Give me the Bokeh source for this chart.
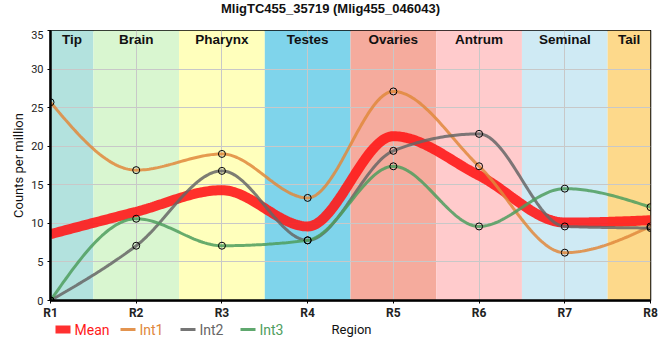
import numpy as np
from bokeh.plotting import figure
from bokeh.layouts import column
from bokeh.models import FixedTicker, Range1d
from bokeh.core.properties import value
from bokeh.embed import file_html
from bokeh.resources import INLINE

title_text = "MligTC455_35719 (Mlig455_046043)"
regions = ["R1", "R2", "R3", "R4", "R5", "R6", "R7", "R8"]
positions = [1, 2, 3, 4, 5, 6, 7, 8]
tissues = ["Tip", "Brain", "Pharynx", "Testes", "Ovaries", "Antrum", "Seminal", "Tail"]
tissue_start = [1, 1.5, 2.5, 3.5, 4.5, 5.5, 6.5, 7.5]
tissue_end = [1.5, 2.5, 3.5, 4.5, 5.5, 6.5, 7.5, 8]
tissue_colors = ["#b3e2de", "#d9f6d0", "#ffffbc", "#7fd4eb", "#f5ab9d",
                 "#ffcbcc", "#cfeaf4", "#fdd98b"]

mean_vals = [8.6, 11.5, 14.3, 9.6, 21.3, 16.2, 10.1, 10.4]
int1_vals = [25.7, 16.9, 19.0, 13.3, 27.1, 17.4, 6.2, 9.6]
int2_vals = [0.0, 7.1, 16.8, 7.8, 19.4, 21.6, 9.6, 9.4]
int3_vals = [0.0, 10.6, 7.1, 7.8, 17.4, 9.6, 14.5, 12.1]

series_names = ["Mean", "Int1", "Int2", "Int3"]
series_colors = ["#ff1a1a", "#e0883c", "#666666", "#4e9e5e"]
series_widths = [10, 3, 3, 3]
x_label = "Region"
y_label = "Counts per million"


def monotone_curve(xs, ys, n=40):
    x = np.asarray(xs, float)
    y = np.asarray(ys, float)
    k = len(x)
    h = np.diff(x)
    s = np.diff(y) / h
    sgn = lambda v: -1.0 if v < 0 else 1.0
    t = np.zeros(k)
    for i in range(1, k - 1):
        s0, s1 = s[i - 1], s[i]
        p_ = (s0 * h[i] + s1 * h[i - 1]) / (h[i - 1] + h[i])
        t[i] = (sgn(s0) + sgn(s1)) * min(abs(s0), abs(s1), 0.5 * abs(p_))
    t[0] = (3 * s[0] - t[1]) / 2
    t[-1] = (3 * s[-1] - t[-2]) / 2
    ox, oy = [], []
    for i in range(k - 1):
        u = np.linspace(0, 1, n, endpoint=(i == k - 2))
        h00 = 2 * u**3 - 3 * u**2 + 1
        h10 = u**3 - 2 * u**2 + u
        h01 = -2 * u**3 + 3 * u**2
        h11 = u**3 - u**2
        ox.extend(x[i] + u * h[i])
        oy.extend(h00 * y[i] + h10 * h[i] * t[i] + h01 * y[i + 1] + h11 * h[i] * t[i + 1])
    return ox, oy


def strip(height):
    f = figure(frame_width=600, frame_height=height, output_backend="svg", toolbar_location=None,
               x_range=Range1d(50, 650), y_range=Range1d(0, height),
               min_border_left=50, min_border_right=8, min_border_top=0, min_border_bottom=0,
               x_axis_type=None, y_axis_type=None)
    f.outline_line_color = None
    f.xgrid.visible = False
    f.ygrid.visible = False
    return f


# title strip (x range in page pixels of the chart frame)
top_h = 30
t = strip(top_h)
t.text(x=[330], y=[top_h - 8], text=[title_text], text_align="center", text_baseline="middle",
       text_font=value("Liberation Sans"), text_font_style="bold", text_font_size="13px",
       text_color="#111111")

p = figure(frame_width=600, frame_height=270, output_backend="svg", toolbar_location=None,
           x_range=Range1d(1, 8), y_range=Range1d(0, 35),
           min_border_left=50, min_border_right=8, min_border_top=0, min_border_bottom=22)

p.quad(left=tissue_start, right=tissue_end, bottom=0, top=35, fill_color=tissue_colors,
       line_color=None, level="image")

centers = [(a + b) / 2 for a, b in zip(tissue_start, tissue_end)]
p.text(x=centers, y=[35] * len(centers), text=tissues, text_align="center",
       text_baseline="top", y_offset=1, text_font=value("Liberation Sans"),
       text_font_style="bold", text_font_size="13.5px", text_color="#111111")

for name, vals, col, lw in zip(series_names, [mean_vals, int1_vals, int2_vals, int3_vals],
                               series_colors, series_widths):
    cx, cy = monotone_curve(positions, vals)
    p.line(cx, cy, line_color=col, line_width=lw, line_alpha=0.9 if name == "Mean" else 0.85)

for vals in [int1_vals, int2_vals, int3_vals]:
    p.scatter(positions, vals, marker="circle", size=7, fill_color=None,
              line_color="black", line_width=1)

p.xaxis.ticker = FixedTicker(ticks=positions)
p.xaxis.major_label_overrides = {pos: lab for pos, lab in zip(positions, regions)}
p.yaxis.ticker = FixedTicker(ticks=[0, 5, 10, 15, 20, 25, 30, 35])
p.yaxis.axis_label = y_label
for ax in [p.xaxis, p.yaxis]:
    ax.axis_line_color = "black"
    ax.axis_line_width = 2.5
    ax.major_tick_out = 3
    ax.major_tick_in = 0
    ax.minor_tick_line_color = None
    ax.major_tick_line_color = "black"
    ax.major_label_text_color = "#222222"
    ax.major_label_text_font = "Roboto"
    ax.major_label_standoff = 4
p.xaxis.major_label_standoff = 2
p.yaxis.major_label_text_font_size = "11px"
p.xaxis.major_label_text_font_style = "bold"
p.xaxis.major_label_text_font_size = "12px"
p.yaxis.axis_label_text_font = "Roboto"
p.yaxis.axis_label_text_font_size = "13px"
p.yaxis.axis_label_text_font_style = "normal"
p.yaxis.axis_label_text_color = "#111111"
p.yaxis.axis_label_standoff = 2

p.xgrid.grid_line_color = "#c8c8c8"
p.ygrid.grid_line_color = "#c8c8c8"
p.outline_line_color = "black"
p.outline_line_width = 1.5
p.outline_line_alpha = 1.0

# legend strip + x axis title beneath the chart
strip_h = 22
q = strip(strip_h)
leg_x0 = [55, 120, 180, 240]
leg_glyph_w = 15
leg_y = 15
q.segment(x0=leg_x0, y0=[leg_y] * 4, x1=[x + leg_glyph_w for x in leg_x0], y1=[leg_y] * 4,
          line_color=series_colors, line_width=[8, 3, 3, 3], line_alpha=0.9)
q.text(x=[x + leg_glyph_w + 4 for x in leg_x0], y=[leg_y] * 4, text=series_names,
       text_color=series_colors, text_baseline="middle", text_align="left",
       text_font=value("Roboto"), text_font_size="14px")
q.text(x=[351], y=[leg_y], text=[x_label], text_color="#111111", text_baseline="middle",
       text_align="center", text_font=value("Roboto"), text_font_size="13px")

layout = column(t, p, q, spacing=0)
open("out.html", "w").write(file_html(layout, INLINE))
